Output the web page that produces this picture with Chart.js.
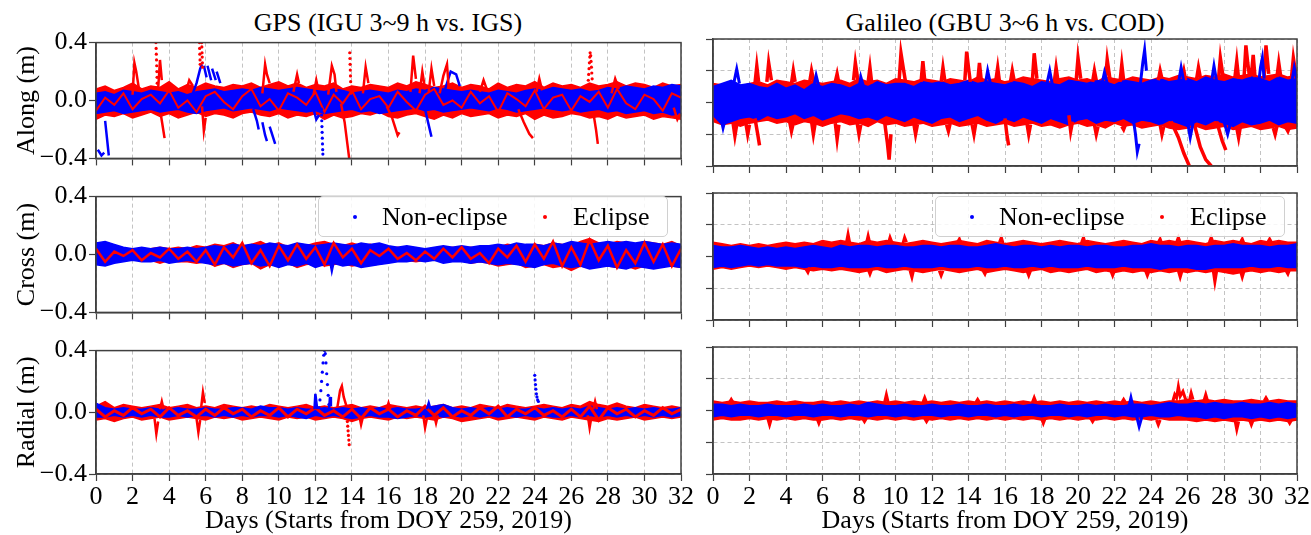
<!DOCTYPE html>
<html>
<head>
<meta charset="utf-8">
<script src="https://cdn.jsdelivr.net/npm/chart.js@4.4.1/dist/chart.umd.min.js"></script>
<style>
  body { margin: 0; width: 1311px; height: 535px; overflow: hidden; background: #fff;
         font-family: 'Liberation Serif', 'Times New Roman', serif; }
  canvas { position: absolute; }
  .ttl { position: absolute; font-size: 26px; line-height: 30px; white-space: nowrap; transform: translateX(-50%); }
  .leg { position: absolute; top: 196px; width: 350px; height: 41px; box-sizing: border-box;
         background: rgba(255,255,255,0.85); border: 1px solid #d0d0d0; border-radius: 5px; }
  .leg span { position: absolute; font-size: 26px; line-height: 39px; top: 0; }
  .leg i { position: absolute; top: 18px; width: 4px; height: 4px; border-radius: 2px; }
</style>
</head>
<body>

<div class="ttl" style="left:388px;top:8px">GPS (IGU 3~9 h vs. IGS)</div>
<div class="ttl" style="left:1005px;top:8px">Galileo (GBU 3~6 h vs. COD)</div>

<canvas id="gpsAlong"></canvas>
<canvas id="galAlong"></canvas>
<canvas id="gpsCross"></canvas>
<canvas id="galCross"></canvas>
<canvas id="gpsRad"></canvas>
<canvas id="galRad"></canvas>

<div class="leg" style="left:318px"><i style="left:34px;background:#00f"></i><span style="left:63px">Non-eclipse</span><i style="left:224px;background:#f00"></i><span style="left:254px">Eclipse</span></div>
<div class="leg" style="left:935px"><i style="left:34px;background:#00f"></i><span style="left:63px">Non-eclipse</span><i style="left:224px;background:#f00"></i><span style="left:254px">Eclipse</span></div>

<script>
// orbit differences in cm, one value every half day (day 0 .. 32)
// upper / lower edges of the scatter envelopes

// ---- GPS along ----
var gpsAlongBlueHi = [
  5, 6, 4, 7, 6, 5, 7, 6, 5, 6, 4, 6, 7,
  8, 6, 7, 8, 7, 9, 8, 7, 8, 9, 8, 7, 6,
  8, 7, 5, 6, 7, 6, 5, 7, 6, 8, 7, 9, 8,
  7, 6, 7, 6, 5, 7, 6, 5, 7, 8, 7, 9, 8,
  7, 8, 6, 7, 9, 8, 10, 9, 8, 10, 9, 11, 10];
var gpsAlongBlueLo = [
  -9, -8, -7, -9, -8, -7, -6, -8, -7, -6, -8, -9, -7,
  -6, -5, -7, -6, -5, -6, -7, -5, -6, -7, -8, -7, -9,
  -8, -7, -6, -8, -7, -9, -8, -7, -6, -5, -7, -6, -8,
  -7, -6, -5, -6, -7, -5, -6, -8, -7, -6, -5, -6, -7,
  -6, -8, -7, -6, -8, -7, -9, -8, -7, -9, -8, -10, -9];
var gpsAlongRedHi = [
  8, 10, 7, 9, 12, 8, 10, 9, 13, 8, 11, 9, 12,
  10, 9, 11, 10, 12, 9, 11, 13, 10, 12, 9, 11, 10,
  12, 8, 10, 9, 11, 10, 9, 12, 10, 13, 11, 9, 10,
  12, 9, 11, 10, 8, 12, 9, 11, 10, 13, 9, 12, 10,
  11, 9, 12, 10, 11, 13, 10, 12, 11, 9, 12, 10, 11];
var gpsAlongRedLo = [
  -13, -10, -11, -9, -12, -10, -8, -11, -9, -12, -10, -8, -11,
  -9, -10, -12, -9, -8, -10, -11, -9, -12, -10, -11, -9, -13,
  -10, -12, -11, -9, -10, -8, -11, -12, -10, -9, -11, -13, -10,
  -12, -9, -11, -10, -9, -12, -10, -11, -9, -13, -10, -12, -11,
  -9, -10, -12, -11, -13, -10, -12, -11, -10, -13, -11, -12, -13];
var gpsAlongRedTrace = [
  -7, 2, -3, 5, -6, 1, 4, -2, 7, -5, 0, -8, 3,
  6, -1, -6, 3, 8, -4, 1, -7, 5, 2, -3, 6, -8,
  4, -2, 7, -6, 1, 3, -5, 6, -1, -7, 4, 8, -3,
  0, -5, 6, -2, 3, -8, 5, 1, -4, 7, -6, 2, 4,
  -7, 3, -1, 6, -5, 8, -2, -6, 4, 1, -7, 5, 2];

// ---- GPS cross ----
var gpsCrossBlueHi = [
  8, 9, 7, 5, 4, 5, 4, 5, 4, 4, 5, 4, 5,
  6, 5, 7, 6, 7, 6, 8, 7, 6, 8, 7, 6, 7,
  8, 7, 6, 8, 7, 8, 6, 5, 6, 5, 4, 5, 6,
  5, 6, 5, 6, 6, 7, 6, 8, 7, 7, 6, 8, 7,
  9, 8, 7, 8, 9, 8, 9, 8, 9, 8, 7, 8, 7];
var gpsCrossBlueLo = [
  -7, -8, -6, -5, -4, -5, -5, -4, -6, -5, -4, -5, -6,
  -7, -6, -8, -7, -6, -8, -7, -9, -7, -8, -6, -9, -7,
  -6, -8, -7, -9, -8, -7, -6, -5, -5, -4, -5, -4, -6,
  -5, -5, -6, -5, -6, -7, -6, -7, -8, -9, -7, -6, -8,
  -9, -8, -10, -9, -8, -9, -10, -8, -9, -10, -9, -8, -9];
var gpsCrossRedHi = [
  6, 5, 4, 3, 4, 3, 4, 5, 4, 5, 4, 6, 5,
  7, 6, 8, 5, 7, 9, 6, 8, 5, 7, 6, 8, 9,
  7, 6, 8, 6, 7, 5, 4, 5, 4, 3, 4, 3, 4,
  5, 4, 5, 4, 6, 5, 7, 6, 5, 7, 6, 8, 7,
  6, 9, 11, 8, 7, 9, 8, 7, 9, 8, 7, 9, 6];
var gpsCrossRedLo = [
  -6, -7, -4, -3, -4, -3, -4, -6, -4, -5, -5, -6, -5,
  -8, -6, -9, -7, -6, -10, -7, -8, -6, -9, -7, -6, -8,
  -7, -6, -8, -7, -6, -5, -4, -3, -4, -5, -4, -3, -5,
  -4, -4, -6, -5, -6, -8, -7, -6, -9, -8, -7, -9, -8,
  -11, -8, -9, -7, -8, -9, -8, -10, -8, -9, -7, -8, -9];
var gpsCrossRedTrace = [
  4, -5, 2, -1, 3, -4, 1, -2, 4, -3, 2, -5, 3,
  -7, 5, -2, 8, -6, 3, -8, 6, -4, 7, -3, 5, -7,
  8, -2, 4, -6, 3, -1, 4, -3, 1, -4, 2, -3, 4,
  -2, 5, -3, 1, -6, 4, -2, 6, -5, 7, -3, 9, -8,
  5, -7, 10, -4, 6, -9, 3, -6, 8, -5, 7, -8, 4];

// ---- GPS radial ----
var gpsRadBlueHi = [
  6, 3, 2, 3, 2, 2, 3, 2, 2, 3, 2, 2, 3,
  2, 2, 3, 3, 2, 4, 3, 3, 2, 3, 2, 2, 3,
  2, 3, 2, 3, 2, 3, 2, 3, 2, 2, 3, 4, 5,
  3, 2, 3, 2, 3, 2, 3, 2, 2, 3, 2, 3, 2,
  3, 2, 4, 3, 2, 3, 2, 3, 2, 3, 2, 2, 3];
var gpsRadBlueLo = [
  -3, -3, -2, -3, -2, -3, -2, -3, -3, -2, -3, -2, -2,
  -3, -2, -3, -2, -3, -2, -2, -3, -2, -3, -4, -2, -3,
  -2, -3, -4, -3, -2, -3, -3, -4, -3, -2, -3, -2, -3,
  -2, -3, -2, -3, -2, -3, -2, -3, -2, -3, -2, -3, -3,
  -2, -3, -2, -3, -2, -3, -2, -3, -2, -3, -2, -3, -2];
var gpsRadRedHi = [
  4, 7, 3, 5, 4, 3, 4, 5, 3, 4, 5, 3, 4,
  3, 5, 4, 3, 4, 3, 5, 4, 3, 4, 5, 3, 4,
  3, 4, 5, 3, 4, 3, 5, 4, 3, 4, 3, 4, 5,
  3, 4, 3, 5, 4, 3, 5, 4, 3, 4, 5, 4, 3,
  5, 4, 7, 5, 4, 6, 4, 3, 5, 4, 3, 4, 3];
var gpsRadRedLo = [
  -5, -4, -6, -4, -3, -5, -4, -3, -5, -4, -3, -4, -5,
  -3, -4, -3, -5, -4, -3, -4, -5, -3, -4, -3, -5, -4,
  -3, -4, -6, -4, -3, -4, -5, -3, -4, -3, -4, -5, -3,
  -4, -6, -5, -4, -3, -5, -4, -3, -4, -5, -3, -4, -5,
  -3, -4, -5, -6, -4, -5, -4, -3, -5, -4, -3, -4, -3];
var gpsRadRedTrace = [
  2, -3, 1, -2, 3, -1, 2, -3, 3, -2, 1, -3, 2,
  -2, 3, -1, 2, -3, 1, -2, 3, -3, 2, -1, 3, -2,
  1, -3, 2, -4, 3, -1, 2, -3, 1, -2, 4, -2, 3,
  -3, 1, -2, 3, -1, 4, -3, 2, -1, 3, -2, 1, -3,
  2, -3, 4, -5, 3, -1, 2, -3, 1, -2, 3, -1, 2];

// ---- Galileo along ----
var galAlongBlueHi = [
  10, 12, 14, 11, 12, 10, 9, 12, 9, 11, 8, 12, 10,
  12, 11, 9, 12, 10, 13, 11, 12, 12, 10, 13, 12, 13,
  11, 12, 14, 12, 13, 12, 11, 13, 12, 10, 13, 12, 11,
  14, 13, 12, 14, 13, 11, 14, 13, 12, 14, 15, 13, 14,
  15, 13, 16, 14, 13, 15, 14, 16, 15, 13, 16, 14, 15];
var galAlongBlueLo = [
  -8, -14, -12, -10, -9, -11, -8, -10, -9, -7, -10, -8, -11,
  -9, -7, -8, -10, -9, -11, -8, -10, -12, -9, -11, -13, -10,
  -9, -12, -10, -8, -11, -13, -10, -12, -9, -11, -13, -10, -12,
  -14, -11, -10, -13, -11, -12, -10, -13, -11, -12, -14, -11, -13,
  -15, -12, -14, -11, -13, -15, -12, -14, -13, -11, -14, -12, -13];
var galAlongRedHi = [
  12, 11, 13, 10, 12, 13, 11, 14, 13, 12, 14, 13, 12,
  13, 14, 12, 15, 13, 14, 12, 15, 14, 13, 15, 14, 13,
  15, 14, 13, 16, 14, 15, 13, 14, 16, 15, 14, 13, 15,
  16, 14, 15, 13, 16, 15, 14, 16, 15, 14, 16, 15, 17,
  16, 15, 17, 16, 18, 16, 17, 18, 16, 17, 18, 16, 17];
var galAlongRedLo = [
  -12, -14, -13, -15, -13, -12, -11, -13, -12, -14, -12, -13, -15,
  -13, -12, -14, -13, -15, -12, -14, -13, -15, -14, -13, -15, -14,
  -13, -15, -14, -13, -15, -14, -13, -15, -14, -13, -15, -14, -16,
  -14, -13, -15, -14, -16, -13, -15, -14, -16, -15, -14, -16, -17,
  -16, -15, -17, -16, -15, -17, -16, -15, -17, -16, -15, -17, -16];

// ---- Galileo cross ----
var galCrossBlueHi = [
  7, 6, 6, 7, 6, 5, 6, 5, 6, 5, 6, 7, 6,
  5, 7, 6, 7, 7, 6, 7, 7, 6, 6, 7, 7, 6,
  7, 7, 6, 6, 7, 8, 7, 6, 7, 7, 6, 7, 6,
  7, 7, 6, 7, 7, 6, 6, 7, 7, 8, 7, 7, 6,
  7, 7, 6, 7, 7, 8, 7, 7, 7, 6, 7, 7, 8];
var galCrossBlueLo = [
  -7, -6, -7, -6, -5, -6, -5, -6, -6, -6, -7, -6, -7,
  -7, -6, -7, -7, -7, -6, -7, -7, -6, -7, -7, -7, -6,
  -7, -7, -7, -6, -7, -7, -6, -7, -7, -6, -7, -6, -7,
  -7, -7, -6, -7, -7, -7, -6, -7, -7, -7, -8, -7, -7,
  -7, -8, -8, -7, -7, -7, -7, -6, -7, -7, -6, -7, -7];
var galCrossRedHi = [
  9, 8, 7, 8, 7, 8, 7, 8, 9, 8, 9, 8, 10,
  9, 10, 9, 8, 10, 9, 10, 9, 8, 9, 10, 9, 8,
  9, 10, 9, 8, 10, 9, 8, 9, 10, 9, 8, 9, 10,
  9, 8, 10, 9, 8, 9, 10, 9, 8, 10, 9, 10, 9,
  10, 9, 8, 10, 9, 10, 9, 8, 10, 9, 10, 9, 9];
var galCrossRedLo = [
  -8, -7, -8, -7, -6, -7, -6, -7, -8, -7, -8, -9, -8,
  -9, -8, -9, -10, -9, -8, -10, -9, -8, -9, -10, -9, -8,
  -9, -10, -9, -8, -10, -9, -8, -9, -10, -9, -8, -10, -9,
  -10, -9, -8, -10, -9, -10, -9, -10, -9, -10, -9, -10, -9,
  -10, -9, -10, -9, -10, -11, -10, -9, -10, -9, -10, -9, -9];

// ---- Galileo radial ----
var galRadBlueHi = [
  4, 4, 3, 4, 3, 3, 4, 3, 3, 3, 4, 3, 4,
  3, 3, 4, 3, 5, 4, 3, 3, 4, 3, 3, 4, 3,
  3, 4, 3, 3, 4, 3, 3, 4, 3, 4, 3, 3, 4,
  3, 3, 4, 3, 4, 3, 3, 4, 4, 3, 4, 5, 4,
  4, 5, 4, 5, 4, 4, 5, 4, 4, 5, 4, 5, 4];
var galRadBlueLo = [
  -4, -3, -4, -3, -3, -4, -3, -3, -4, -3, -3, -4, -3,
  -3, -4, -3, -3, -4, -3, -3, -4, -3, -4, -3, -3, -4,
  -3, -3, -4, -3, -3, -4, -3, -4, -3, -3, -4, -3, -3,
  -4, -3, -4, -3, -3, -4, -3, -4, -4, -3, -4, -4, -3,
  -4, -4, -5, -4, -5, -4, -4, -5, -4, -5, -4, -5, -4];
var galRadRedHi = [
  6, 5, 6, 5, 6, 5, 5, 6, 5, 6, 5, 5, 6,
  5, 6, 5, 6, 5, 6, 5, 6, 5, 6, 5, 6, 5,
  6, 5, 6, 5, 6, 5, 6, 5, 6, 5, 6, 5, 6,
  5, 6, 5, 6, 5, 6, 5, 6, 5, 6, 5, 6, 6,
  7, 6, 7, 6, 7, 6, 6, 7, 6, 6, 7, 6, 6];
var galRadRedLo = [
  -6, -5, -6, -6, -5, -6, -5, -6, -5, -6, -5, -6, -6,
  -5, -6, -5, -6, -5, -6, -5, -6, -5, -6, -5, -6, -5,
  -6, -5, -6, -5, -6, -5, -6, -5, -6, -5, -6, -5, -6,
  -5, -6, -5, -6, -5, -6, -5, -6, -5, -6, -5, -6, -6,
  -6, -7, -6, -7, -6, -7, -6, -7, -6, -7, -6, -7, -6];

// excursions: [day, cm] pairs, one sub-list per satellite arc
var gpsAlongRedSegs = [
  [[2.0, 4], [2.1, 26], [2.2, 20], [2.35, 8]],
  [[3.4, 8], [3.5, 28], [3.6, 14]],
  [[3.55, -10], [3.65, -18], [3.75, -26]],
  [[4.9, 5], [5.1, 14], [5.3, 10]],
  [[5.8, -4], [5.9, -21], [6.0, -12]],
  [[9.1, 5], [9.25, 25], [9.35, 18], [9.5, 12]],
  [[10.8, 6], [11.0, 18], [11.1, 12]],
  [[11.9, 4], [12.05, 14], [12.15, 8]],
  [[12.7, 4], [12.9, 24], [13.05, 18], [13.15, 6]],
  [[13.4, -2], [13.6, -15], [13.75, -30], [13.85, -40]],
  [[14.6, 5], [14.75, 23], [14.9, 12]],
  [[15.9, -4], [16.2, -12], [16.5, -24], [16.6, -22]],
  [[17.2, 6], [17.35, 31], [17.5, 15]],
  [[17.7, 5], [17.85, 20], [18.0, 8]],
  [[18.2, 6], [18.35, 22], [18.5, 10]],
  [[18.8, 5], [19.0, 17], [19.2, 25], [19.3, 8]],
  [[21.0, 6], [21.2, 14], [21.4, 7]],
  [[23.1, -6], [23.4, -15], [23.7, -23], [23.9, -26]],
  [[24.1, 6], [24.25, 15], [24.4, 7]],
  [[27.2, -8], [27.35, -20], [27.45, -30]],
  [[28.2, 5], [28.4, 15], [28.6, 8]],
  [[31.6, -5], [31.8, -13], [31.95, -9]]
];
var gpsAlongBlueSegs = [
  [[0.1, -34], [0.3, -38], [0.45, -36]],
  [[0.5, -14], [0.6, -26], [0.7, -38]],
  [[5.3, 5], [5.5, 12], [5.7, 22], [5.8, 25]],
  [[5.9, 24], [6.05, 16]],
  [[6.1, 24], [6.3, 14]],
  [[6.35, 22], [6.55, 14]],
  [[6.6, 20], [6.8, 12]],
  [[8.6, -6], [8.8, -14], [8.9, -20]],
  [[9.1, -15], [9.25, -24], [9.35, -28]],
  [[9.5, -18], [9.7, -26], [9.8, -30]],
  [[11.9, -6], [12.05, -13], [12.2, -10]],
  [[18.0, -6], [18.2, -17], [18.35, -25]],
  [[19.1, 8], [19.4, 20], [19.7, 18], [19.9, 10]]
];
var gpsAlongRedDots = [
  [3.28, 40], [3.29, 36], [3.3, 32], [3.31, 28], [3.32, 24], [3.33, 20], [3.34, 16], [3.35, 12], [3.36, 9],
  [5.66, 40], [5.67, 36], [5.68, 32], [5.69, 28], [5.7, 25],
  [5.78, 40], [5.79, 37], [5.8, 33], [5.81, 30], [5.82, 26], [5.83, 23],
  [13.88, 33], [13.89, 29], [13.9, 25], [13.91, 21], [13.92, 17], [13.93, 13], [13.94, 9], [13.95, 5],
  [26.9, 10], [26.93, 14], [26.95, 18], [26.97, 22], [26.99, 26], [27.01, 30], [27.03, 33],
  [27.06, 31], [27.08, 27], [27.1, 23], [27.12, 19], [27.14, 15]
];
var gpsAlongBlueDots = [
  [12.33, -6], [12.34, -10], [12.35, -14], [12.36, -18], [12.37, -22], [12.38, -26], [12.39, -30], [12.4, -34], [12.41, -37]
];

var gpsCrossBlueSegs = [[[12.8, -4], [12.9, -11], [13.0, -5]]];

var gpsRadRedSegs = [
  [[3.2, -4], [3.3, -14], [3.4, -6]],
  [[3.5, 2], [3.6, 7], [3.7, 2]],
  [[5.5, -4], [5.6, -13], [5.7, -5]],
  [[5.75, 3], [5.85, 13], [5.95, 6]],
  [[13.2, 3], [13.35, 14], [13.45, 17], [13.55, 10], [13.7, 4]],
  [[14.4, -2], [14.5, -8], [14.6, -3]],
  [[15.9, 2], [16.0, 6], [16.1, 2]],
  [[17.9, -2], [18.0, -10], [18.1, -4]],
  [[18.5, -2], [18.6, -7], [18.7, -2]],
  [[26.9, -2], [27.0, -10], [27.1, -3]],
  [[27.2, 2], [27.3, 7], [27.4, 2]]
];
var gpsRadBlueSegs = [
  [[11.95, 2], [12.0, 12], [12.1, 2]],
  [[12.75, 2], [12.8, 10], [12.85, 4]],
  [[18.1, 2], [18.2, 6], [18.3, 2]]
];
var gpsRadBlueDots = [
  [12.2, 3], [12.25, 8], [12.3, 14], [12.34, 20], [12.38, 26], [12.42, 32], [12.46, 37], [12.5, 40],
  [12.54, 38], [12.58, 32], [12.62, 25], [12.66, 18], [12.7, 11], [12.74, 5],
  [24.0, 24], [24.02, 21], [24.04, 18], [24.06, 15], [24.09, 12], [24.12, 10], [24.16, 8], [24.2, 7]
];
var gpsRadRedDots = [[13.75, -6], [13.77, -9], [13.79, -12], [13.81, -15], [13.83, -18], [13.85, -21]];

var galAlongRedSegs = [
  [[2.3, 12], [2.4, 23], [2.5, 13]],
  [[2.95, 13], [3.05, 25], [3.2, 14]],
  [[4.3, 12], [4.4, 20], [4.5, 13]],
  [[5.3, 13], [5.4, 20], [5.55, 12]],
  [[6.7, 13], [6.8, 18], [6.9, 12]],
  [[7.7, 14], [7.8, 25], [7.95, 13]],
  [[8.5, 13], [8.6, 22], [8.7, 12]],
  [[10.2, 14], [10.3, 31], [10.45, 20], [10.55, 13]],
  [[11.4, 13], [11.5, 26], [11.6, 14]],
  [[12.5, 13], [12.6, 22], [12.7, 14]],
  [[13.8, 14], [13.9, 32], [14.0, 22], [14.1, 13]],
  [[14.5, 13], [14.6, 25], [14.7, 14]],
  [[15.5, 14], [15.6, 22], [15.7, 13]],
  [[16.3, 13], [16.4, 20], [16.5, 14]],
  [[17.5, 14], [17.6, 31], [17.75, 15]],
  [[18.7, 13], [18.8, 22], [18.9, 14]],
  [[19.9, 14], [20.0, 28], [20.15, 15]],
  [[20.8, 13], [20.9, 20], [21.0, 14]],
  [[21.5, 14], [21.6, 27], [21.75, 15]],
  [[22.3, 13], [22.4, 24], [22.5, 14]],
  [[24.4, 14], [24.5, 20], [24.6, 15]],
  [[25.7, 15], [25.8, 20], [25.9, 14]],
  [[26.5, 15], [26.6, 22], [26.7, 16]],
  [[27.7, 15], [27.8, 28], [27.95, 16]],
  [[28.6, 16], [28.7, 26], [28.8, 15]],
  [[29.1, 16], [29.2, 36], [29.3, 25], [29.4, 16]],
  [[29.5, 17], [29.6, 30], [29.7, 16]],
  [[30.2, 16], [30.3, 36], [30.45, 18]],
  [[30.9, 16], [31.0, 25], [31.1, 17]],
  [[31.7, 16], [31.8, 28], [31.95, 17]],
  [[1.1, -13], [1.2, -21], [1.3, -14]],
  [[1.8, -13], [1.9, -20], [2.0, -14]],
  [[2.3, -10], [2.45, -20], [2.55, -27]],
  [[4.2, -12], [4.3, -18], [4.4, -13]],
  [[5.4, -12], [5.5, -20], [5.6, -13]],
  [[6.7, -13], [6.8, -23], [6.9, -14]],
  [[7.9, -13], [8.0, -20], [8.1, -14]],
  [[9.4, -12], [9.55, -25], [9.65, -36], [9.75, -20]],
  [[11.0, -13], [11.1, -20], [11.2, -14]],
  [[12.8, -14], [12.9, -18], [13.0, -13]],
  [[14.2, -14], [14.3, -20], [14.4, -13]],
  [[16.0, -10], [16.1, -20], [16.2, -27]],
  [[17.2, -13], [17.3, -20], [17.4, -14]],
  [[19.5, -8], [19.6, -18], [19.7, -12]],
  [[20.9, -14], [21.0, -20], [21.1, -15]],
  [[22.4, -15], [22.5, -17], [22.6, -14]],
  [[24.5, -14], [24.6, -20], [24.7, -15]],
  [[25.1, -12], [25.5, -22], [25.8, -32], [26.1, -40]],
  [[26.4, -15], [26.7, -28], [27.0, -36], [27.3, -40]],
  [[27.6, -12], [27.9, -24], [28.1, -30]],
  [[28.7, -16], [28.8, -22], [28.9, -15]],
  [[30.7, -16], [30.8, -20], [30.9, -15]],
  [[31.4, -16], [31.5, -18], [31.6, -15]]
];
var galAlongBlueSegs = [
  [[1.1, 10], [1.3, 21], [1.45, 12]],
  [[5.5, 9], [5.65, 17], [5.8, 10]],
  [[8.0, 9], [8.1, 16], [8.25, 10]],
  [[14.9, 10], [15.05, 20], [15.2, 12]],
  [[18.3, 12], [18.45, 20], [18.6, 11]],
  [[21.3, 11], [21.45, 19], [21.6, 12]],
  [[23.0, -8], [23.15, -20], [23.25, -31], [23.35, -26]],
  [[23.4, 10], [23.55, 25], [23.65, 33], [23.75, 20]],
  [[25.5, 12], [25.65, 22], [25.8, 13]],
  [[27.3, 12], [27.45, 23], [27.6, 13]],
  [[29.9, 12], [30.0, 22], [30.1, 28], [30.2, 15]],
  [[31.7, 12], [31.85, 22], [32.0, 14]],
  [[0.4, -8], [0.55, -16], [0.7, -9]],
  [[26.0, -12], [26.15, -22], [26.3, -13]],
  [[28.0, -12], [28.2, -20], [28.35, -13]]
];
var galCrossRedSegs = [
  [[7.3, 8], [7.4, 14], [7.5, 8]],
  [[8.4, 8], [8.5, 13], [8.6, 8]],
  [[9.6, 8], [9.7, 12], [9.8, 9]],
  [[10.4, 8], [10.5, 12], [10.6, 9]],
  [[13.4, 9], [13.5, 11], [13.6, 8]],
  [[15.7, 9], [15.8, 12], [15.9, 8]],
  [[20.2, 9], [20.3, 12], [20.4, 8]],
  [[24.4, 9], [24.5, 11], [24.6, 8]],
  [[25.4, 9], [25.5, 12], [25.6, 9]],
  [[27.2, 9], [27.3, 12], [27.4, 9]],
  [[28.9, 9], [29.0, 11], [29.1, 8]],
  [[30.4, 9], [30.5, 11], [30.6, 9]],
  [[5.1, -8], [5.2, -10], [5.3, -7]],
  [[8.5, -8], [8.6, -11], [8.7, -8]],
  [[10.8, -9], [10.9, -13], [11.0, -8]],
  [[12.4, -9], [12.5, -12], [12.6, -9]],
  [[14.8, -9], [14.9, -11], [15.0, -8]],
  [[17.2, -9], [17.3, -12], [17.4, -9]],
  [[21.8, -9], [21.9, -12], [22.0, -9]],
  [[23.7, -9], [23.8, -12], [23.9, -9]],
  [[25.5, -9], [25.6, -13], [25.7, -9]],
  [[27.4, -8], [27.5, -16], [27.6, -9]],
  [[28.9, -9], [29.0, -13], [29.1, -9]],
  [[31.4, -9], [31.5, -11], [31.6, -8]]
];
var galRadRedSegs = [
  [[0.9, 5], [1.0, 7], [1.1, 5]],
  [[9.4, 5], [9.5, 10], [9.6, 5]],
  [[11.5, 5], [11.6, 8], [11.7, 5]],
  [[14.4, 5], [14.5, 7], [14.6, 5]],
  [[17.5, 5], [17.6, 8], [17.7, 5]],
  [[22.4, 5], [22.5, 7], [22.6, 5]],
  [[25.2, 6], [25.3, 10], [25.4, 8], [25.5, 15], [25.6, 9], [25.75, 12], [25.9, 7]],
  [[26.1, 6], [26.2, 11], [26.3, 7]],
  [[26.9, 6], [27.0, 10], [27.1, 6]],
  [[30.2, 6], [30.3, 8], [30.4, 6]],
  [[3.0, -5], [3.1, -9], [3.2, -5]],
  [[5.7, -5], [5.8, -8], [5.9, -5]],
  [[8.2, -5], [8.3, -7], [8.4, -5]],
  [[11.6, -5], [11.7, -7], [11.8, -5]],
  [[18.0, -5], [18.1, -8], [18.2, -5]],
  [[20.7, -5], [20.8, -7], [20.9, -5]],
  [[24.3, -6], [24.4, -9], [24.5, -6]],
  [[28.6, -6], [28.7, -12], [28.8, -7]],
  [[29.4, -6], [29.5, -9], [29.6, -6]],
  [[31.5, -6], [31.6, -8], [31.7, -6]]
];
var galRadBlueSegs = [
  [[22.8, 3], [22.9, 8], [23.0, 3]],
  [[23.2, -3], [23.35, -10], [23.5, -4]]
];

var RED = '#ff0000';
var BLUE = '#0000ff';
var FONT = "'Liberation Serif', 'Times New Roman', serif";
var TEXT_FONT = { family: FONT, size: 26 };

Chart.defaults.font.family = FONT;
Chart.defaults.font.size = 26;
Chart.defaults.color = '#000';

function halfDays(arr) {
  return arr.map((v, i) => ({ x: i * 0.5, y: v / 100 }));
}

function band(lo, hi, color, order) {
  return [
    { data: halfDays(lo), borderColor: color, backgroundColor: color, borderWidth: 1.5, pointRadius: 0, fill: false, order: order },
    { data: halfDays(hi), borderColor: color, backgroundColor: color, borderWidth: 1.5, pointRadius: 0, fill: '-1', order: order }
  ];
}

function trace(arr, color, order, width) {
  return { data: halfDays(arr), borderColor: color, borderWidth: width || 2, pointRadius: 0, fill: false, order: order };
}

function segs(list, color, order, width) {
  var pts = [];
  list.forEach(s => {
    s.forEach(p => pts.push({ x: p[0], y: p[1] / 100 }));
    pts.push({ x: s[s.length - 1][0], y: null });
  });
  return { data: pts, borderColor: color, borderWidth: width || 2.5, pointRadius: 0, fill: false, spanGaps: false, order: order };
}

function dots(list, color, order) {
  return { data: list.map(p => ({ x: p[0], y: p[1] / 100 })), showLine: false, pointRadius: 1.6,
           pointBackgroundColor: color, pointBorderWidth: 0, order: order };
}

// box round the plot area on all four sides
var framePlugin = {
  id: 'frame',
  afterDraw(chart) {
    var a = chart.chartArea, ctx = chart.ctx;
    ctx.save();
    ctx.strokeStyle = '#404040';
    ctx.lineWidth = 1.5;
    ctx.strokeRect(a.left, a.top, a.right - a.left, a.bottom - a.top);
    ctx.restore();
  }
};

var ROW_TOP = [25, 179, 333];

function makePanel(id, col, row, yTitle, datasets) {
  var canvas = document.getElementById(id);
  var axisW = col === 0 ? 96 : 30;
  var width = col === 0 ? 695 : 628;
  var bottomH = row === 2 ? 63 : 10;
  var height = 14 + 127 + bottomH;
  canvas.width = width;
  canvas.height = height;
  canvas.style.left = (col === 0 ? 0 : 683) + 'px';
  canvas.style.top = ROW_TOP[row] + 'px';

  new Chart(canvas, {
    type: 'line',
    data: { datasets: datasets },
    plugins: [framePlugin],
    options: {
      responsive: false,
      animation: false,
      layout: { autoPadding: false, padding: { top: 14, right: 14, left: 0, bottom: 0 } },
      plugins: { legend: { display: false }, tooltip: { enabled: false } },
      scales: {
        x: {
          type: 'linear', min: 0, max: 32,
          afterFit: s => { s.height = bottomH; },
          ticks: { stepSize: 2, display: row === 2, padding: 1, maxRotation: 0, autoSkip: false,
                   font: TEXT_FONT, color: '#000' },
          grid: { color: '#b4b4b4', lineWidth: 0.8, tickColor: '#404040', tickLength: 7, tickWidth: 1.2 },
          border: { color: '#404040', width: 1.5, dash: [4, 3] },
          title: { display: row === 2, text: 'Days (Starts from DOY 259, 2019)', font: TEXT_FONT,
                   color: '#000', padding: { top: 0, bottom: 0 } }
        },
        y: {
          min: -0.4, max: 0.4,
          afterFit: s => { s.width = axisW; },
          ticks: { stepSize: 0.2, display: col === 0, padding: 2, font: TEXT_FONT, color: '#000',
                   callback: v => v.toFixed(1).replace('-', '\u2212') },
          grid: { color: '#b4b4b4', lineWidth: 0.8, tickColor: '#404040', tickLength: 7, tickWidth: 1.2 },
          border: { color: '#404040', width: 1.5, dash: [4, 3] },
          title: { display: !!yTitle, text: yTitle, font: TEXT_FONT, color: '#000',
                   padding: { top: 12, bottom: 0 } }
        }
      }
    }
  });
}

// lower order draws on top
makePanel('gpsAlong', 0, 0, 'Along (m)', [].concat(
  band(gpsAlongRedLo, gpsAlongRedHi, RED, 7),
  band(gpsAlongBlueLo, gpsAlongBlueHi, BLUE, 6),
  [trace(gpsAlongRedTrace, RED, 5),
   segs(gpsAlongBlueSegs, BLUE, 4),
   segs(gpsAlongRedSegs, RED, 3),
   dots(gpsAlongBlueDots, BLUE, 2),
   dots(gpsAlongRedDots, RED, 1)]
));
makePanel('gpsCross', 0, 1, 'Cross (m)', [].concat(
  band(gpsCrossRedLo, gpsCrossRedHi, RED, 7),
  band(gpsCrossBlueLo, gpsCrossBlueHi, BLUE, 6),
  [segs(gpsCrossBlueSegs, BLUE, 5),
   trace(gpsCrossRedTrace, RED, 4, 2.5)]
));
makePanel('gpsRad', 0, 2, 'Radial (m)', [].concat(
  band(gpsRadRedLo, gpsRadRedHi, RED, 7),
  band(gpsRadBlueLo, gpsRadBlueHi, BLUE, 6),
  [trace(gpsRadRedTrace, RED, 5, 3),
   segs(gpsRadBlueSegs, BLUE, 4),
   segs(gpsRadRedSegs, RED, 3),
   dots(gpsRadBlueDots, BLUE, 2),
   dots(gpsRadRedDots, RED, 1)]
));
makePanel('galAlong', 1, 0, '', [].concat(
  band(galAlongRedLo, galAlongRedHi, RED, 7),
  band(galAlongBlueLo, galAlongBlueHi, BLUE, 6),
  [segs(galAlongRedSegs, RED, 5, 3.5),
   segs(galAlongBlueSegs, BLUE, 4, 3)]
));
makePanel('galCross', 1, 1, '', [].concat(
  band(galCrossRedLo, galCrossRedHi, RED, 7),
  band(galCrossBlueLo, galCrossBlueHi, BLUE, 6),
  [segs(galCrossRedSegs, RED, 5, 3)]
));
makePanel('galRad', 1, 2, '', [].concat(
  band(galRadRedLo, galRadRedHi, RED, 7),
  band(galRadBlueLo, galRadBlueHi, BLUE, 6),
  [segs(galRadRedSegs, RED, 5, 3),
   segs(galRadBlueSegs, BLUE, 4, 3)]
));
</script>
</body>
</html>
